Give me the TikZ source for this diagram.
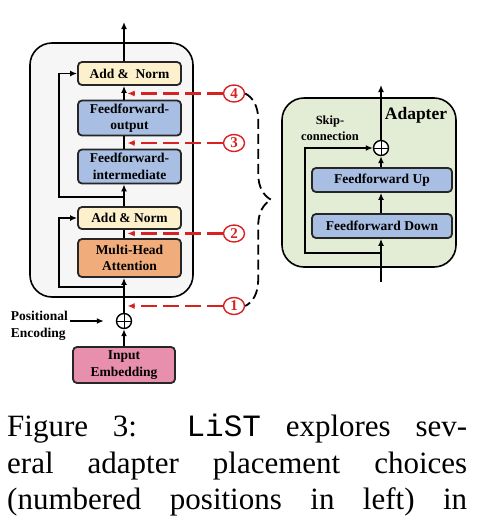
\documentclass[tikz,border=0pt]{standalone}
\usepackage{fontspec}
\setmainfont{Liberation Serif}
\setmonofont{Liberation Mono}
\usetikzlibrary{arrows.meta,positioning,shapes.geometric,decorations.pathreplacing}
\definecolor{normyellow}{RGB}{253,241,205}
\definecolor{ffblue}{RGB}{168,190,226}
\definecolor{attnorange}{RGB}{241,172,124}
\definecolor{embpink}{RGB}{233,143,174}
\definecolor{blockgray}{RGB}{246,246,246}
\definecolor{adaptgreen}{RGB}{227,236,213}
\definecolor{posred}{RGB}{216,34,34}
\begin{document}
\begin{tikzpicture}[x=1pt,y=1pt,
  box/.style={draw=black!85,line width=1.8pt,rounded corners=4pt,minimum width=103pt,inner sep=0pt,align=center,font=\fontsize{13.5}{16.5}\selectfont\bfseries},
  arr/.style={line width=1.8pt,-{Latex[length=7pt,width=6pt]}},
  ln/.style={line width=1.8pt},
  reddash/.style={posred,line width=2.4pt,dash pattern=on 16pt off 6pt,-{Latex[length=7pt,width=6pt]}},
  numc/.style={ellipse,draw=posred,line width=1.4pt,text=posred,minimum width=21pt,minimum height=17pt,inner sep=0pt,font=\fontsize{15}{15}\selectfont\bfseries},
  sumnode/.style={circle,draw,line width=1.4pt,fill=white,minimum size=15pt,inner sep=0pt,path picture={\draw[line width=1pt] (path picture bounding box.north) -- (path picture bounding box.south) (path picture bounding box.west) -- (path picture bounding box.east);}}]
\useasboundingbox (0,0) rectangle (483,-520);
\draw[fill=blockgray,line width=1.6pt,rounded corners=22pt] (30,-43) rectangle (193,-297);
\draw[fill=adaptgreen,line width=1.6pt,rounded corners=22pt] (282,-98) rectangle (456,-267);

\coordinate (spine) at (124,0);
\coordinate (tipx) at (127.5,0);
\coordinate (out) at (124,-22);
\coordinate (skip1) at (124,-287);
\coordinate (skip2) at (124,-197);
\node[box,fill=normyellow,minimum height=23pt] (an2) at (129.5,-73.5) {Add \&\ \ Norm};
\node[box,fill=ffblue,minimum height=35pt] (ffo) at (129.5,-118) {Feedforward-\\output};
\node[box,fill=ffblue,minimum height=34pt] (ffi) at (129.5,-166.5) {Feedforward-\\intermediate};
\node[box,fill=normyellow,minimum height=22pt] (an1) at (129.5,-218) {Add \& Norm};
\node[box,fill=attnorange,minimum height=38pt] (mha) at (129.5,-258) {Multi-Head\\Attention};
\node[sumnode] (plus) at (124,-321) {};
\node[box,fill=embpink,minimum width=102pt,minimum height=36pt] (ie) at (124,-365) {Input\\Embedding};
\node[anchor=east,align=left,inner sep=2pt,font=\fontsize{13.5}{17}\selectfont\bfseries] (pe) at (70,-325.5) {Positional\\Encoding};

\draw[arr] (ie.north) -- (plus.south);
\draw[arr] (plus.north) -- (mha.south -| spine);
\draw[ln] (mha.north -| spine) -- (an1.south -| spine);
\draw[arr] (an1.north -| spine) -- (ffi.south -| spine);
\draw[ln] (ffi.north -| spine) -- (ffo.south -| spine);
\draw[arr] (ffo.north -| spine) -- (an2.south -| spine);
\draw[arr] (an2.north -| spine) -- (out);
\draw[arr] (skip1) -| ([xshift=-18pt]an1.west) -- (an1.west);
\draw[arr] (skip2) -| ([xshift=-18pt]an2.west) -- (an2.west);
\draw[arr,shorten >=12pt] (pe.east |- plus.west) -- (plus.west);

\node[numc] (n4) at (234,-93.5) {4};
\node[numc] (n3) at (234,-143) {3};
\node[numc] (n2) at (234,-233.5) {2};
\node[numc] (n1) at (234,-306) {1};
\foreach \n in {1,...,4}
  \draw[reddash] (n\n.west) -- (n\n.west -| tipx);
\draw[line width=1.8pt,dash pattern=on 10pt off 5pt,decorate,decoration={brace,amplitude=26pt}] (n4.east) -- (n1.east);

\coordinate (aspine) at (381,0);
\coordinate (ain) at (381,-282);
\coordinate (aout) at (381,-85);
\coordinate (askip) at (381,-253);
\node[font=\fontsize{17.5}{20}\selectfont\bfseries] (adlabel) at (416,-115) {Adapter};
\node[align=center,font=\fontsize{12.5}{16}\selectfont\bfseries] (skiplabel) at (330,-128) {Skip-\\connection};
\node[sumnode] (aplus) at (381,-148) {};
\node[box,fill=ffblue,minimum width=140pt,minimum height=24pt] (ffup) at (382,-180) {Feedforward Up};
\node[box,fill=ffblue,minimum width=140pt,minimum height=24pt] (ffdown) at (382,-226) {Feedforward Down};
\draw[arr] (ain) -- (ffdown.south -| aspine);
\draw[arr] (ffdown.north -| aspine) -- (ffup.south -| aspine);
\draw[arr] (ffup.north -| aspine) -- (aplus.south);
\draw[arr] (aplus.north) -- (aout);
\draw[arr] (askip) -| ([xshift=-68pt]aplus.west) -- (aplus.west);

\node[anchor=north west,inner sep=0pt,font=\fontsize{31}{36.5}\selectfont] (caption) at (7,-414) {\begin{minipage}[t]{460pt}\tolerance=10000 \parfillskip=0pt Figure 3:\ \ \texttt{LiST} explores sev-\linebreak eral adapter placement choices\linebreak (numbered positions in left) in\end{minipage}};
\end{tikzpicture}
\end{document}
